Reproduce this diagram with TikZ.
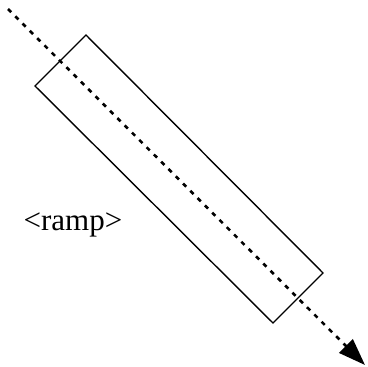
\documentclass[tikz,border=0pt]{standalone}
\usepackage{fontspec}
\setmainfont{Liberation Serif}
\usetikzlibrary{arrows.meta}
\begin{document}
\begin{tikzpicture}[x=1pt,y=-1pt,
  boxline/.style={draw=black,line width=1.4pt,line join=miter},
  flowline/.style={draw=black,line width=2.6pt,dash pattern=on 4.5pt off 5.8pt,
    -{Triangle[length=27pt,width=19pt]}},
  lbl/.style={font=\fontsize{31}{35}\selectfont,inner sep=0pt}]
\useasboundingbox (0,0) rectangle (367,367);
\coordinate (c1) at (86,35);
\coordinate (c2) at (323,273);
\coordinate (c3) at (273,323);
\coordinate (c4) at (35,86);
\draw[boxline] (c1) -- (c2) -- (c3) -- (c4) -- cycle;
\coordinate (s) at (8,9);
\coordinate (e) at (365,365);
\draw[flowline] (s) -- (e);
\node[lbl] (ramp) at (73,225) {<ramp>};
\end{tikzpicture}
\end{document}
